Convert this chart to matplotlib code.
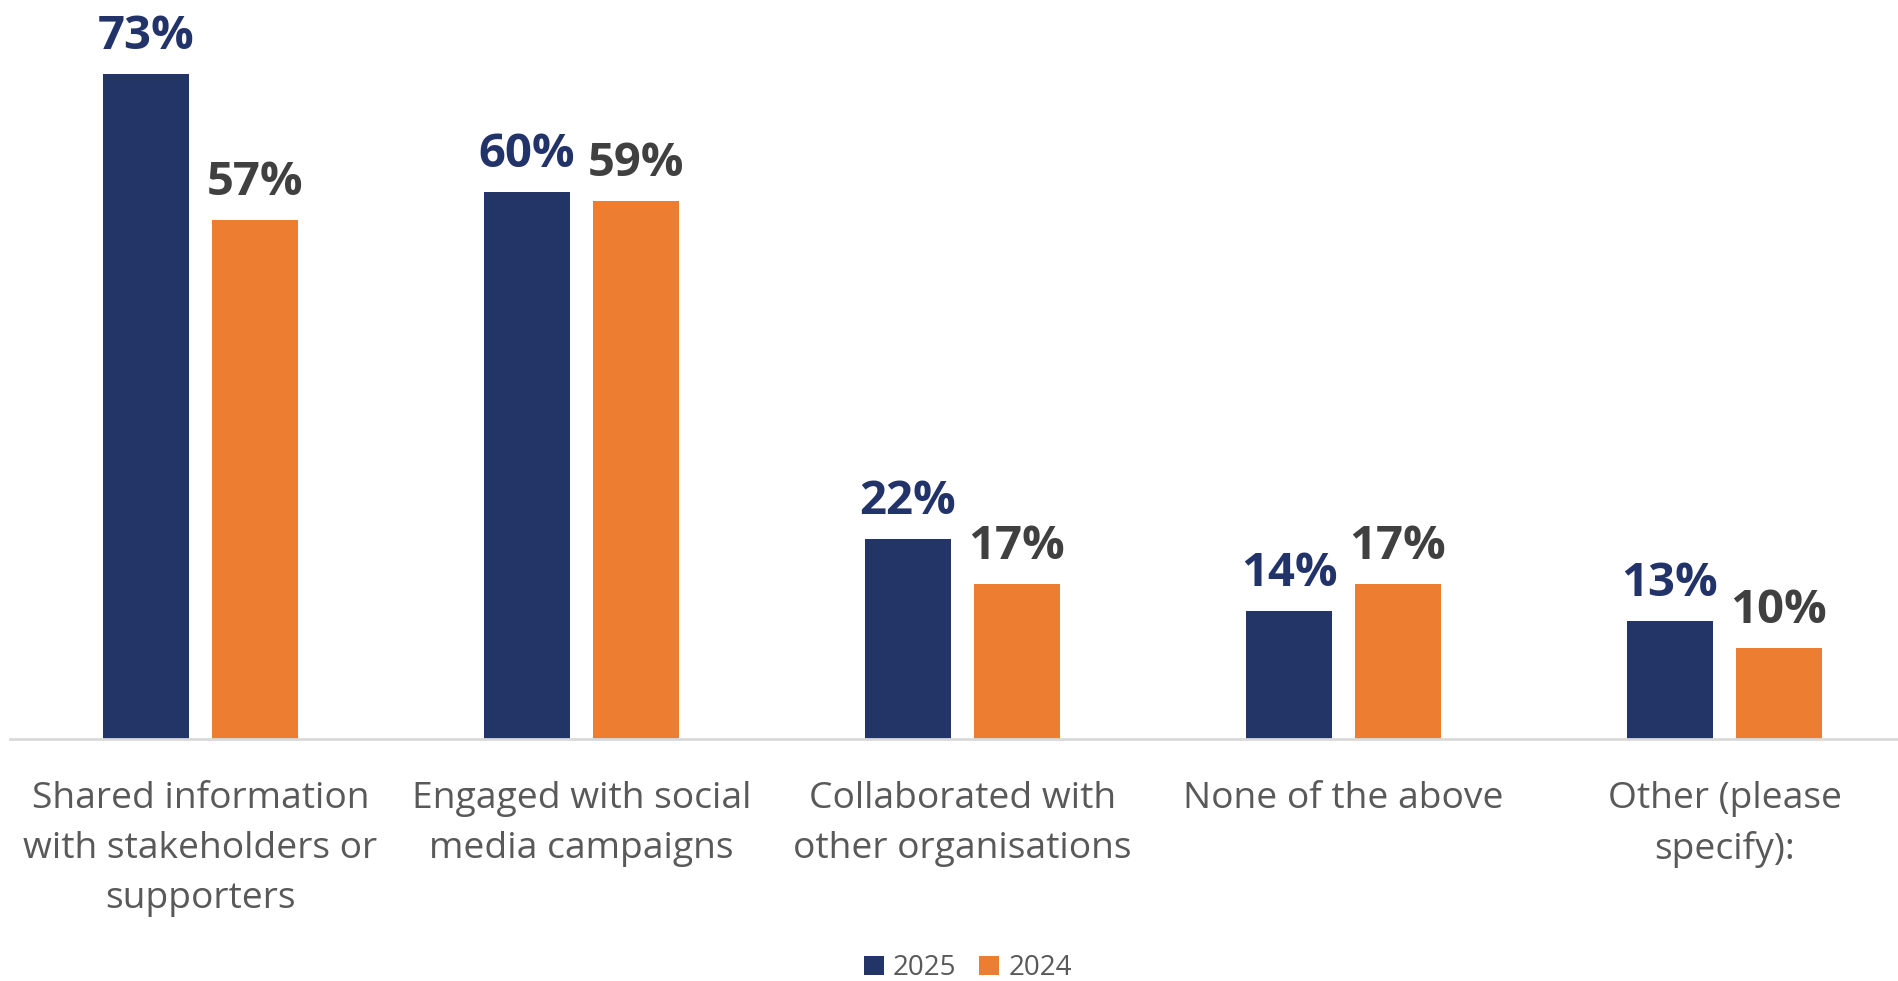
import matplotlib.pyplot as plt
import numpy as np

#--- Data ---
categories = ['Shared information\nwith stakeholders or\nsupporters',
              'Engaged with social\nmedia campaigns',
              'Collaborated with\nother organisations',
              'None of the above',
              'Other (please\nspecify):']
vals_2025 = [73, 60, 22, 14, 13]
vals_2024 = [57, 59, 17, 17, 10]
series_names = ['2025', '2024']

#--- Style ---
navy = '#233467'
orange = '#ED7D31'
label_navy = '#22336A'
label_grey = '#404040'
text_grey = '#595959'
FontName = 'Open Sans'

W, H = 1898, 981
fig = plt.figure(figsize=(W/100, H/100), dpi=100)

# axes: baseline at y=739 px, left edge at x=10 px
ax = fig.add_axes([10/W, 1 - 739/H, 1 - 10/W, 739/H])

xx = np.arange(len(categories))
BarWidth = 0.226
Offset = 0.143

b1 = ax.bar(xx - Offset, vals_2025, BarWidth, color=navy, label=series_names[0])
b2 = ax.bar(xx + Offset, vals_2024, BarWidth, color=orange, label=series_names[1])

# value labels on top of the bars
for bars, vals, col in [(b1, vals_2025, label_navy), (b2, vals_2024, label_grey)]:
    for rect, v in zip(bars, vals):
        ax.annotate('%d%%' % v, (rect.get_x() + rect.get_width()/2, v),
                    xytext=(0, 18), textcoords='offset points',
                    ha='center', va='baseline', fontsize=34,
                    fontweight='bold', color=col, family=FontName)

ax.set_xlim(-0.5, -0.5 + 1888/381)
ax.set_ylim(0, 81.1)

ax.set_xticks(xx)
ax.set_xticklabels(categories, fontsize=26.8, color=text_grey,
                   family=FontName, linespacing=1.52)
ax.tick_params(axis='x', length=0, pad=30)
ax.set_yticks([])

for side in ['top', 'right', 'left']:
    ax.spines[side].set_visible(False)
ax.spines['bottom'].set_color('#D9D9D9')
ax.spines['bottom'].set_linewidth(2)

fig.legend(handles=[b1, b2], loc='center', bbox_to_anchor=(968/W, 1 - 968/H),
           ncol=2, frameon=False, prop={'family': FontName, 'size': 20},
           labelcolor=text_grey, handlelength=0.72, handleheight=0.65,
           handletextpad=0.32, columnspacing=0.82, borderpad=0)

fig.savefig('out.png', dpi=100)
